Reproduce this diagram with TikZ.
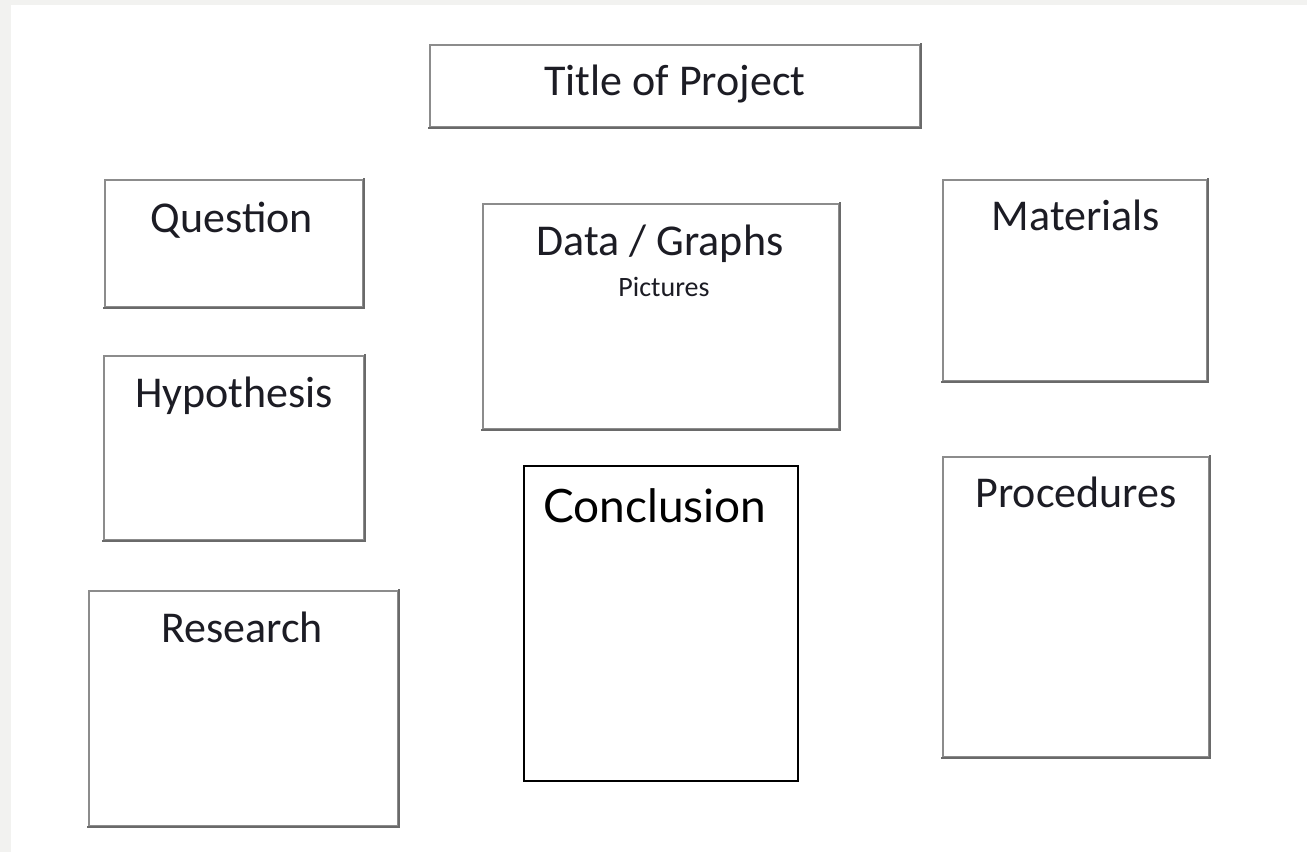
\documentclass[tikz,border=0pt]{standalone}
\usepackage{fontspec}
\setmainfont{Carlito}
\newfontfamily\concfont{Lato}
\definecolor{pagegrey}{HTML}{F2F2F0}
\definecolor{boxline}{HTML}{8C8C8C}
\definecolor{boxshade}{HTML}{6A6A6A}
\definecolor{txt}{HTML}{1C1C24}
\tikzset{
  box/.style={draw=boxline, line width=1.2pt, fill=white, inner sep=0pt},
  shadeedge/.style={draw=boxshade, line width=2pt, line cap=rect},
  lbl/.style={anchor=base, inner sep=0pt, text=txt, font=\fontsize{44}{50}\selectfont},
  small/.style={anchor=base, inner sep=0pt, text=txt, font=\fontsize{28}{32}\selectfont},
  conbox/.style={draw=black, line width=1.2pt, fill=white, inner sep=0pt},
}
\begin{document}
\begin{tikzpicture}[x=1pt,y=-1pt]
\useasboundingbox (0,0) rectangle (1307,852);
\fill[pagegrey] (0,0) rectangle (1307,852);
\fill[white] (11,5) rectangle (1307,852);

% boxes
\node[box, minimum width=490pt, minimum height=82pt] (title) at (675,86) {};
\node[box, minimum width=258pt, minimum height=127pt] (quest) at (234,243.5) {};
\node[box, minimum width=260pt, minimum height=184pt] (hypo) at (234,448) {};
\node[box, minimum width=309pt, minimum height=235pt] (res) at (243.5,708.5) {};
\node[box, minimum width=356pt, minimum height=225pt] (data) at (661,316.5) {};
\node[box, minimum width=264pt, minimum height=201pt] (mat) at (1075,280.5) {};
\node[box, minimum width=266pt, minimum height=300pt] (proc) at (1076,607) {};
\node[conbox, minimum width=274pt, minimum height=315pt] (conc) at (661,623.5) {};

% darker right / bottom edges
\foreach \b in {title,quest,hypo,res,data,mat,proc}{
  \draw[shadeedge] (\b.north east) -- (\b.south east) -- (\b.south west);
}

% labels
\node[lbl] (ttitle) at (675,95) {Title of Project};
\node[lbl] (tquest) at (232,232) {Question};
\node[lbl] (thypo) at (234,407) {Hypothesis};
\node[lbl] (tres) at (242,642) {Research};
\node[lbl] (tdata) at (660,255) {Data / Graphs};
\node[small] (tpic) at (664,296) {Pictures};
\node[lbl] (tmat) at (1076,230) {Materials};
\node[lbl] (tproc) at (1076,507) {Procedures};
\node[anchor=base west, inner sep=0pt, text=black, font=\concfont\fontsize{46}{52}\selectfont] (tconc) at (543,522) {Conclusion};
\end{tikzpicture}
\end{document}
